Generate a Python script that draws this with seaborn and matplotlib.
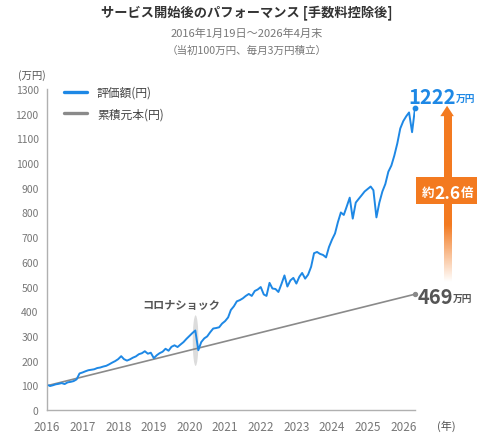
import numpy as np
import pandas as pd
import matplotlib
matplotlib.use('Agg')
import matplotlib.pyplot as plt
from matplotlib.patches import Ellipse, Rectangle, Polygon
from matplotlib.lines import Line2D
from matplotlib.colors import to_rgb
import seaborn as sns

# 評価額(万円): 開始日 + 各月末 (2016年1月〜2026年4月)
start_date = '2016-01-19'
month_ends = pd.date_range('2016-01-31', '2026-04-30', freq='ME')
value_man = [100,
             97, 100, 104, 106, 109, 105, 112, 114, 117, 124, 148, 152,      # 2016
             157, 161, 163, 165, 170, 172, 176, 179, 185, 192, 198, 206,     # 2017
             218, 206, 200, 205, 212, 217, 226, 230, 238, 228, 232, 210,     # 2018
             222, 230, 236, 248, 240, 256, 262, 255, 265, 275, 288, 300,     # 2019
             312, 322, 242, 275, 290, 298, 315, 330, 332, 335, 350, 360,     # 2020
             375, 405, 420, 440, 445, 452, 462, 470, 462, 482, 488, 498,     # 2021
             468, 462, 515, 492, 490, 478, 510, 545, 500, 525, 535, 512,     # 2022
             540, 555, 532, 548, 580, 635, 640, 632, 628, 618, 660, 690,     # 2023
             715, 760, 800, 790, 825, 860, 775, 840, 855, 870, 885, 895,     # 2024
             905, 890, 780, 840, 885, 915, 965, 990, 1030, 1080, 1140, 1170, # 2025
             1190, 1205, 1125, 1222]                                         # 2026

# 累積元本(万円)
principal_dates = ['2016-01-19', '2026-04-30']
principal_man = [100, 469]

year_ticks = list(range(2016, 2027))
y_ticks = list(range(0, 1301, 100))

blue = '#1e88e5'
gray_line = '#8a8a8a'
orange = '#f37a20'
text_gray = '#555555'


def to_year(dates):
    d = pd.to_datetime(pd.Series(dates))
    days = np.where(d.dt.is_leap_year, 366, 365)
    return (d.dt.year + (d.dt.dayofyear - 1) / days).to_numpy()


val_x = to_year([start_date] + list(month_ends))
pr_x = to_year(principal_dates)
df_val = pd.DataFrame({'year': val_x, 'value': value_man})
df_pr = pd.DataFrame({'year': pr_x, 'value': principal_man})

sns.set_theme(style='white')
plt.rcParams['font.family'] = ['Noto Sans CJK JP', 'DejaVu Sans']

fig = plt.figure(figsize=(4.88, 4.39), dpi=100)
ax = fig.add_axes([47 / 488, 28 / 439, 368 / 488, 321 / 439])

# コロナショックの強調
ax.add_patch(Ellipse((2020.17, 281), 0.16, 205, color='#dcdcdc', zorder=1, lw=0))

sns.lineplot(data=df_pr, x='year', y='value', color=gray_line, linewidth=1.2,
             estimator=None, sort=False, ax=ax, zorder=2)
sns.lineplot(data=df_val, x='year', y='value', color=blue, linewidth=1.4,
             estimator=None, sort=False, ax=ax, zorder=3)
ax.scatter([val_x[-1]], [value_man[-1]], s=10, color=blue, zorder=4, clip_on=False)
ax.scatter([pr_x[-1]], [principal_man[-1]], s=8, color=gray_line, zorder=4, clip_on=False)

ax.set_xlim(2016, val_x[-1])
ax.set_ylim(0, 1300)
ax.set_xticks(year_ticks)
ax.set_xticklabels([str(y) for y in year_ticks])
ax.set_yticks(y_ticks)
ax.set_xlabel('')
ax.set_ylabel('')
for s in ['top', 'right']:
    ax.spines[s].set_visible(False)
for s in ['left', 'bottom']:
    ax.spines[s].set_color('#b0b0b0')
    ax.spines[s].set_linewidth(1)
ax.tick_params(axis='x', direction='out', length=4, color='#b0b0b0', labelsize=8.5,
               labelcolor='#777777', pad=3)
ax.tick_params(axis='y', direction='out', length=4, color='#b0b0b0', labelsize=7.5,
               labelcolor='#777777', pad=2)
ax.grid(False)

# 凡例
handles = [Line2D([], [], color=blue, lw=2.4), Line2D([], [], color=gray_line, lw=2.4)]
ax.legend(handles, ['評価額(円)', '累積元本(円)'], loc='upper left',
          bbox_to_anchor=(0.046, 1.01), frameon=False, fontsize=8.5,
          handlelength=1.95, handletextpad=0.85, labelspacing=0.7,
          borderpad=0, borderaxespad=0, labelcolor='#444444')

# 終値ラベル
t1 = ax.annotate(f'{value_man[-1]}', xy=(val_x[-1], value_man[-1]), xytext=(-5, 4),
                 textcoords='offset points', ha='left', va='baseline',
                 fontsize=14.5, fontweight='bold', color=blue, annotation_clip=False)
ax.annotate('万円', xy=(1, 0.2), xycoords=t1, ha='left', va='bottom',
            fontsize=7, fontweight='bold', color=blue)
t2 = ax.annotate(f'{principal_man[-1]}', xy=(pr_x[-1], principal_man[-1]), xytext=(2, 0),
                 textcoords='offset points', ha='left', va='center_baseline',
                 fontsize=14.5, fontweight='bold', color=text_gray, annotation_clip=False)
ax.annotate('万円', xy=(1, 0.2), xycoords=t2, ha='left', va='bottom',
            fontsize=7, fontweight='bold', color=text_gray)

# 倍率の矢印
ax_x = val_x[-1] + 0.9
shaft_hw = 0.1
head_hw = 0.19
shaft_bottom = principal_man[-1] + 50
head_base = value_man[-1] - 32
head_top = value_man[-1] + 10
ys = np.linspace(shaft_bottom, head_base, 300)
rgba = np.zeros((300, 1, 4))
rgba[..., :3] = to_rgb(orange)
rgba[:, 0, 3] = np.clip((ys - shaft_bottom) / 230, 0, 1)
im = ax.imshow(rgba, extent=[ax_x - shaft_hw, ax_x + shaft_hw, shaft_bottom, head_base],
               origin='lower', aspect='auto', zorder=3, interpolation='bilinear')
im.set_clip_on(False)
ax.add_patch(Polygon([(ax_x - head_hw, head_base), (ax_x + head_hw, head_base), (ax_x, head_top)],
                     closed=True, color=orange, lw=0, clip_on=False, zorder=3))
ax.add_patch(Rectangle((ax_x - 0.88, 834), 1.71, 109, color=orange, lw=0,
                       clip_on=False, zorder=4))
ratio = value_man[-1] / principal_man[-1]
t3 = ax.text(ax_x + 0.02, 888, f'{ratio:.1f}', ha='center', va='center_baseline',
             fontsize=12.5, fontweight='bold', color='white', zorder=5)
ax.annotate('約', xy=(0, 0.5), xycoords=t3, ha='right', va='center',
            fontsize=9, fontweight='bold', color='white', zorder=5)
ax.annotate('倍', xy=(1, 0.5), xycoords=t3, ha='left', va='center',
            fontsize=9, fontweight='bold', color='white', zorder=5)

ax.text(2019.78, 429, 'コロナショック', ha='center', va='center', fontsize=8,
        fontweight='bold', color=text_gray)

# 軸の単位
fig.text(32 / 488, 1 - 76 / 439, '(万円)', ha='center', va='center', fontsize=7.5, color=text_gray)
fig.text(446 / 488, 1 - 426 / 439, '(年)', ha='center', va='center', fontsize=8, color=text_gray)

# タイトル
fig.text(0.506, 1 - 13 / 439, 'サービス開始後のパフォーマンス [手数料控除後]', ha='center', va='center',
         fontsize=9.5, fontweight='bold', color='#333333')
fig.text(0.506, 1 - 34 / 439, '2016年1月19日～2026年4月末', ha='center', va='center',
         fontsize=8, color='#777777')
fig.text(0.506, 1 - 51 / 439, '（当初100万円、毎月3万円積立）', ha='center', va='center',
         fontsize=7.6, color='#777777')

fig.savefig('out.png', dpi=100)
plt.close(fig)
